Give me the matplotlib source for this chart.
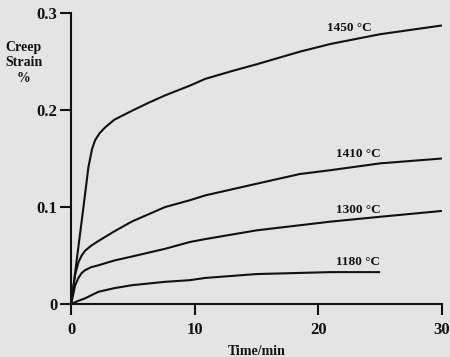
import matplotlib.pyplot as plt

plt.rcParams['font.family'] = ['Liberation Serif', 'DejaVu Serif']
plt.rcParams['font.weight'] = 'bold'

# creep curves (time in min, strain in %)
t_1450 = [0, 0.5, 1.0, 1.4, 1.7, 1.95, 2.3, 2.75, 3.5, 4.9, 6.2, 7.6, 9.6, 10.85, 13, 15, 18.5, 21, 25, 30]
s_1450 = [0, 0.05, 0.10, 0.141, 0.160, 0.169, 0.176, 0.182, 0.190, 0.199, 0.207, 0.215, 0.225, 0.232, 0.240, 0.247, 0.260, 0.268, 0.278, 0.287]

t_1410 = [0, 0.1, 0.19, 0.32, 0.59, 0.85, 1.13, 1.6, 2.2, 3.5, 4.9, 7.6, 9.6, 10.85, 15, 18.5, 21, 25, 30]
s_1410 = [0, 0.009, 0.018, 0.030, 0.043, 0.050, 0.055, 0.060, 0.065, 0.075, 0.085, 0.100, 0.107, 0.112, 0.124, 0.134, 0.138, 0.145, 0.150]

t_1300 = [0, 0.1, 0.19, 0.32, 0.59, 0.85, 1.13, 1.6, 2.2, 3.5, 4.9, 7.6, 9.6, 10.85, 15, 21, 25, 30]
s_1300 = [0, 0.006, 0.011, 0.019, 0.027, 0.032, 0.035, 0.038, 0.040, 0.045, 0.049, 0.057, 0.064, 0.067, 0.076, 0.085, 0.090, 0.096]

t_1180 = [0, 0.5, 1.13, 2.2, 3.5, 4.9, 7.6, 9.6, 10.85, 15, 21, 25]
s_1180 = [0, 0.003, 0.006, 0.0127, 0.0165, 0.0195, 0.023, 0.0247, 0.027, 0.031, 0.033, 0.033]

labels = ['1450 °C', '1410 °C', '1300 °C', '1180 °C']
label_x = [22.5, 23.2, 23.2, 23.2]
label_y = [0.284, 0.155, 0.0966, 0.043]

x_ticks = [0, 10, 20, 30]
y_ticks = [0, 0.1, 0.2, 0.3]
y_ticklabels = ['0', '0.1', '0.2', '0.3']

bg = '#e4e4e4'
ink = '#111111'

fig = plt.figure(figsize=(4.5, 3.57), dpi=100, facecolor=bg)
ax = fig.add_axes([0.158, 0.148, 0.824, 0.816], facecolor=bg)

for t, s in [(t_1450, s_1450), (t_1410, s_1410), (t_1300, s_1300), (t_1180, s_1180)]:
    ax.plot(t, s, color=ink, lw=1.5, solid_capstyle='butt', solid_joinstyle='round')

for lab, lx, ly in zip(labels, label_x, label_y):
    ax.text(lx, ly, lab, ha='center', va='center', fontsize=9.5, fontweight='bold', color=ink)

ax.set_xlim(0, 30)
ax.set_ylim(0, 0.3)
ax.set_xticks(x_ticks)
ax.set_yticks(y_ticks)
ax.set_yticklabels(y_ticklabels)
for side in ['top', 'right']:
    ax.spines[side].set_visible(False)
for side in ['left', 'bottom']:
    ax.spines[side].set_linewidth(1.5)
    ax.spines[side].set_color(ink)
ax.tick_params(direction='out', length=8, width=1.5, colors=ink, labelsize=12, pad=2)
ax.tick_params(axis='x', pad=5)
for lab in ax.get_xticklabels() + ax.get_yticklabels():
    lab.set_fontweight('bold')

ax.set_xlabel('Time/min', fontsize=10, fontweight='bold', color=ink, labelpad=5)
fig.text(24 / 450, 1 - 63 / 357, 'Creep\nStrain\n%', ha='center', va='center',
         fontsize=10, fontweight='bold', color=ink, linespacing=1.25)

fig.savefig('out.png', dpi=100, facecolor=bg)
